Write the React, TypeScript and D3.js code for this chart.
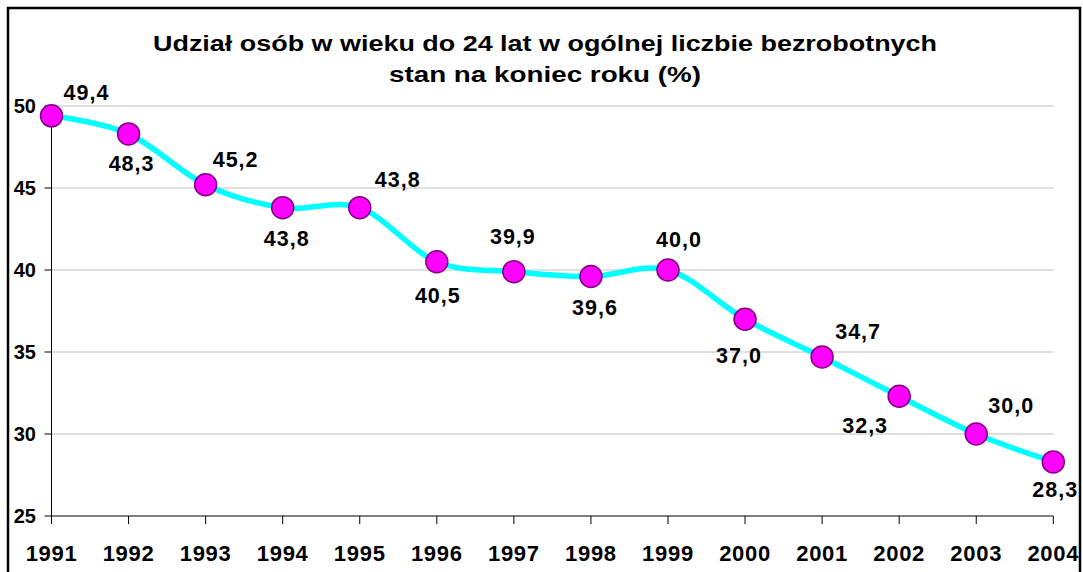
import React from "react";
import * as d3 from "d3";

const years = ["1991","1992","1993","1994","1995","1996","1997","1998","1999","2000","2001","2002","2003","2004"];
const values = [49.4, 48.3, 45.2, 43.8, 43.8, 40.5, 39.9, 39.6, 40.0, 37.0, 34.7, 32.3, 30.0, 28.3];
const yTicks = [25, 30, 35, 40, 45, 50];
const titleLines = ["Udział osób w wieku do 24 lat w ogólnej liczbie bezrobotnych", "stan na koniec roku (%)"];
const titleWidths = [784, 312];

// label offsets relative to marker (style, not data)
const labelOffsets: [number, number][] = [
  [35, -16], [3, 37], [30, -18], [4, 38], [38, -21], [1, 41], [-1, -28],
  [4, 38], [11, -23], [-6, 44], [36, -18], [-34, 37], [35, -21], [2, 35],
];

const W = 1083, H = 572;
const left = 51.5, right = 1053.3, top = 106, bottom = 516;

export default function App() {
  const x = d3.scalePoint<string>().domain(years).range([left, right]);
  const y = d3.scaleLinear().domain([25, 50]).range([bottom, top]);
  const line = d3.line<number>()
    .x((_, i) => x(years[i])!)
    .y((d) => y(d))
    .curve(d3.curveCatmullRom.alpha(0));
  const font = "'Liberation Sans', Arial, sans-serif";
  return (
    <svg width={W} height={H} style={{ position: "absolute", left: 0, top: 0, background: "#fff" }} fontFamily={font}>
      <rect x={0} y={0} width={W} height={H} fill="#fff" />
      <rect x={8} y={8} width={1072} height={600} fill="#fff" stroke="#000" strokeWidth={2.5} />
      {titleLines.map((t, i) => (
        <text key={i} x={545} y={51 + i * 31} textAnchor="middle" fontSize={22.5} fontWeight="bold" fill="#000"
          textLength={titleWidths[i]} lengthAdjust="spacingAndGlyphs">{t}</text>
      ))}
      {yTicks.filter((t) => t > 25).map((t) => (
        <line key={t} x1={left} x2={right} y1={y(t)} y2={y(t)} stroke="#c0c0c0" strokeWidth={1} />
      ))}
      <line x1={left} x2={left} y1={top} y2={bottom} stroke="#000" strokeWidth={1} />
      <line x1={left} x2={right} y1={bottom} y2={bottom} stroke="#000" strokeWidth={1} />
      {yTicks.map((t) => (
        <g key={t}>
          <line x1={left - 7} x2={left} y1={y(t)} y2={y(t)} stroke="#000" />
          <text x={36} y={y(t)} dy="0.36em" textAnchor="end" fontSize={20} fontWeight="bold" fill="#000">{t}</text>
        </g>
      ))}
      {years.map((yr) => (
        <g key={yr}>
          <line x1={x(yr)} x2={x(yr)} y1={bottom} y2={bottom + 8} stroke="#000" />
          <text x={x(yr)} y={561} textAnchor="middle" fontSize={22} fontWeight="bold" letterSpacing={0.7} fill="#000">{yr}</text>
        </g>
      ))}
      <path d={line(values) || ""} fill="none" stroke="#00ffff" strokeWidth={5.5} strokeLinejoin="round" />
      {values.map((v, i) => (
        <circle key={i} cx={x(years[i])} cy={y(v)} r={11} fill="#ff00ff" stroke="#800080" strokeWidth={1.5} />
      ))}
      {values.map((v, i) => {
        const [dx, dy] = labelOffsets[i];
        return (
          <text key={i} x={x(years[i])! + dx} y={y(v) + dy} textAnchor="middle" fontSize={21.5} fontWeight="bold" letterSpacing={1} fill="#000">
            {v.toFixed(1).replace(".", ",")}
          </text>
        );
      })}
    </svg>
  );
}
